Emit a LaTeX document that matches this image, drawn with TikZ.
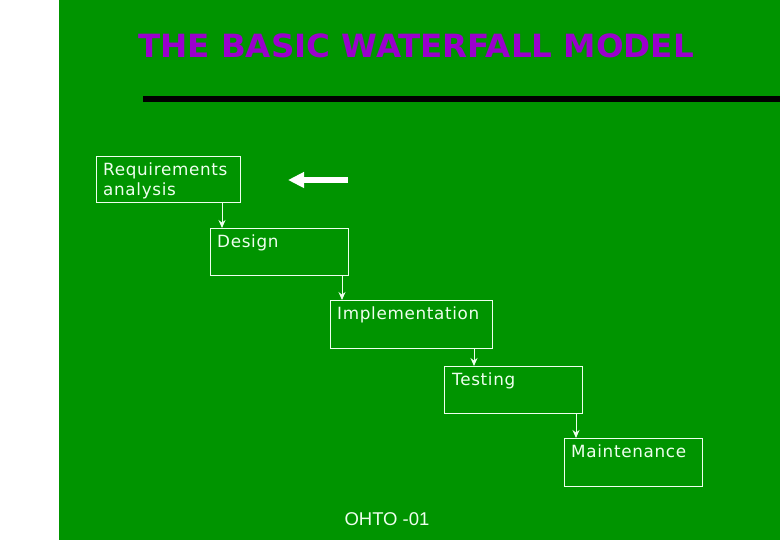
\documentclass[tikz,border=0pt]{standalone}
\usepackage{fontspec}
\setmainfont{DejaVu Sans}[LetterSpace=4]
\newfontfamily\titlefont{DejaVu Sans Condensed Bold}
\newfontfamily\footfont{Liberation Sans}
\usetikzlibrary{arrows.meta}
\definecolor{bggreen}{HTML}{009400}
\definecolor{ttlpurple}{HTML}{9A00CC}
\definecolor{txtwhite}{HTML}{EEFFEE}
\tikzset{
  x=1pt, y=-1pt,
  phase/.style={draw=txtwhite, line width=0.9pt, anchor=north west, minimum width=#1,
    minimum height=47pt, inner sep=0pt},
  lbl/.style={anchor=north west, text=txtwhite, font=\fontsize{16.8}{20}\selectfont,
    inner sep=0pt, align=left},
  flow/.style={draw=txtwhite, line width=1pt, -{Stealth[length=8pt,width=7pt]}}
}
\begin{document}
\begin{tikzpicture}
\useasboundingbox (0,0) rectangle (780,540);
\fill[white] (0,0) rectangle (780,540);
\fill[bggreen] (59,0) rectangle (780,540);
% title
\node[anchor=center, text=ttlpurple, inner sep=0pt,
  font=\titlefont\fontsize{32}{36}\selectfont] (title) at (416,46) {\scalebox{1.13}[1]{THE BASIC WATERFALL MODEL}};
\fill[black] (143,96) rectangle (780,102);
% boxes
\node[phase=144pt, minimum height=46pt] (req) at (96,156) {};
\node[phase=138pt] (des) at (210,228) {};
\node[phase=162pt, minimum height=48pt] (imp) at (330,300) {};
\node[phase=138pt] (tst) at (444,366) {};
\node[phase=138pt, minimum height=48pt] (mnt) at (564,438) {};
% labels
\node[lbl] (reqt) at (103,163) {Requirements\\analysis};
\node[lbl] (dest) at (217,235) {Design};
\node[lbl] (impt) at (337,307) {Implementation};
\node[lbl] (tstt) at (452,373) {Testing};
\node[lbl] (mntt) at (571,445) {Maintenance};
% flow arrows
\draw[flow] (req.south west) ++(126,0) coordinate (a1) -- (a1 |- des.north);
\draw[flow] (des.south west) ++(132,0) coordinate (a2) -- (a2 |- imp.north);
\draw[flow] (imp.south west) ++(144,0) coordinate (a3) -- (a3 |- tst.north);
\draw[flow] (tst.south west) ++(132,0) coordinate (a4) -- (a4 |- mnt.north);
% big white arrow
\coordinate (bs) at (348,180);
\coordinate (be) at (288,180);
\draw[white, line width=6pt, -{Triangle[length=16pt,width=15pt]}] (bs) -- (be);
% footer
\node[anchor=center, text=txtwhite, inner sep=0pt, font=\footfont\fontsize{18.5}{20}\selectfont] (foot) at (387,519) {OHTO -01};
\end{tikzpicture}
\end{document}
